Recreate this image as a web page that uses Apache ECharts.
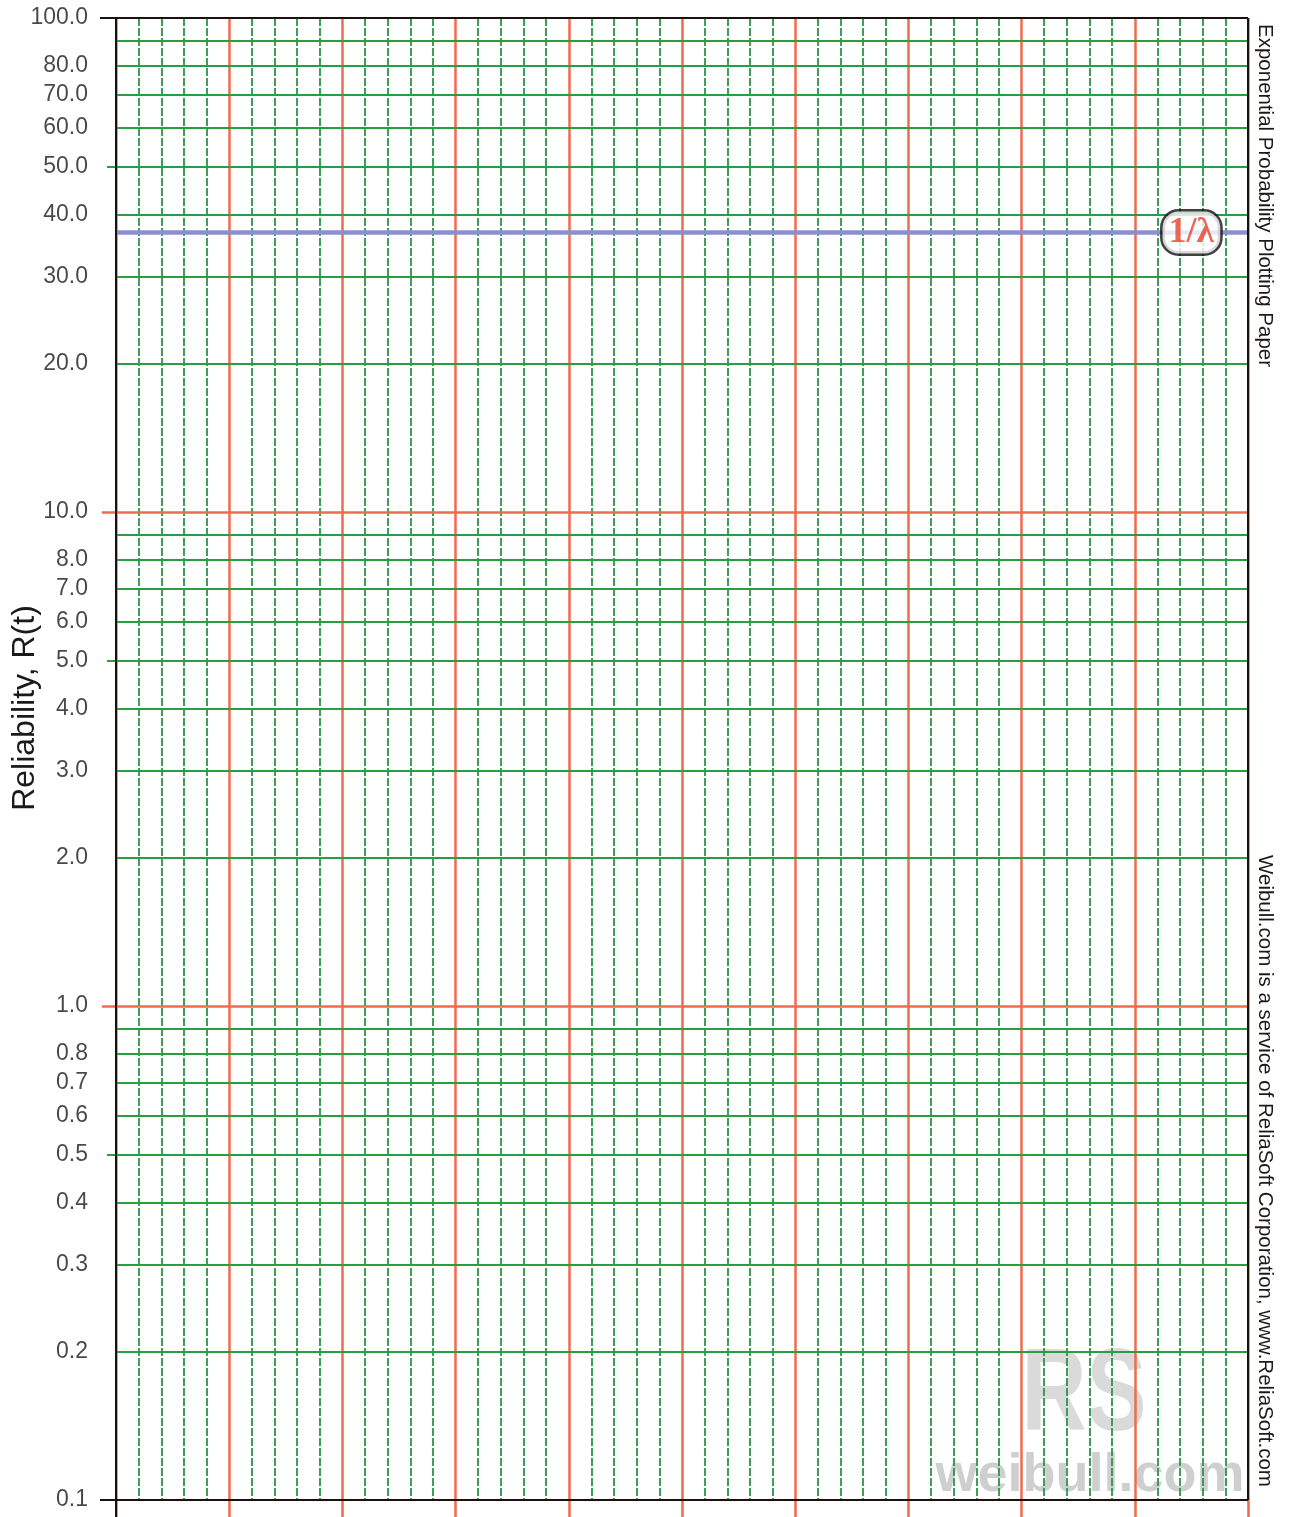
<!DOCTYPE html>
<html><head><meta charset="utf-8">
<style>html,body{margin:0;padding:0;background:#fff}#c{width:1290px;height:1517px}</style>
<script src="https://cdn.jsdelivr.net/npm/echarts@6/dist/echarts.min.js"></script>
</head><body><div id="c"></div>
<script>
// ---- data ----
const yTickLabels = [100,80,70,60,50,40,30,20,10,8,7,6,5,4,3,2,1,0.8,0.7,0.6,0.5,0.4,0.3,0.2,0.1];
const minorGridValues = [90,80,70,60,50,40,30,20,9,8,7,6,5,4,3,2,0.9,0.8,0.7,0.6,0.5,0.4,0.3,0.2];
const majorGridValues = [10,1];
const borderValues = [100,0.1];
const longTickValues = [50,5,0.5];
const meanLifeReliability = 36.79;   // R(t = 1/lambda) = e^-1
const xRange = [0,10];
const xMajorStep = 1;
const xMinorSplit = 5;
const lambdaLabelX = 9.5;

// ---- styles ----
const GRID = {left:116, top:18, right:42, bottom:17};
const RED = '#ef6a4e', GREEN = '#2a9e3f', DGREEN = '#2a9646', BLACK = '#1c110c', BLUE = '#8a8fd2';
const FONT = '"Liberation Sans", Arial, sans-serif';

function hLine(v, startPx, color, width) {
  const ls = {color, width, type:'solid'};
  const from = startPx == null ? {xAxis:xRange[0], yAxis:v} : {x:startPx, yAxis:v};
  return [Object.assign(from, {lineStyle:ls}), {xAxis:xRange[1], yAxis:v, lineStyle:ls}];
}
const lines = [];
minorGridValues.forEach(v => {
  lines.push(hLine(v, longTickValues.includes(v) ? GRID.left - 9 : null, GREEN, 2));
});
majorGridValues.forEach(v => lines.push(hLine(v, GRID.left - 14, RED, 2.5)));
lines.push(hLine(meanLifeReliability, null, BLUE, 4.5));
borderValues.forEach(v => lines.push(hLine(v, GRID.left - 16, BLACK, 2)));
const bs = {color:BLACK, width:2, type:'solid'};
lines.push([{xAxis:xRange[0], yAxis:borderValues[0], lineStyle:bs}, {xAxis:xRange[0], y:1517, lineStyle:bs}]);
lines.push([{xAxis:xRange[1], yAxis:borderValues[0], lineStyle:bs}, {xAxis:xRange[1], yAxis:borderValues[1], lineStyle:bs}]);

const chart = echarts.init(document.getElementById('c'), null, {renderer:'canvas'});
chart.setOption({
  animation:false,
  backgroundColor:'#fff',
  grid:{left:GRID.left, top:GRID.top, right:GRID.right, bottom:GRID.bottom},
  xAxis:{
    type:'value', min:xRange[0], max:xRange[1], interval:xMajorStep,
    axisLine:{show:true, onZero:false, lineStyle:{color:BLACK, width:2}},
    axisTick:{show:true, length:17, lineStyle:{color:RED, width:2.5}},
    axisLabel:{show:false},
    splitLine:{show:true, lineStyle:{color:RED, width:2.5}},
    minorTick:{show:false, splitNumber:xMinorSplit},
    minorSplitLine:{show:true, lineStyle:{color:DGREEN, width:1.8, type:[8,2]}}
  },
  yAxis:{
    type:'log', logBase:10, min:borderValues[1], max:borderValues[0],
    axisLine:{show:false}, axisTick:{show:false}, axisLabel:{show:false},
    splitLine:{show:false}, minorSplitLine:{show:false}
  },
  series:[
    {
      type:'scatter', symbolSize:0, clip:false, silent:true,
      data: yTickLabels.map(v => [xRange[0], v]),
      label:{show:true, position:'left', distance:28, color:'#1a1a1a', fontSize:23, fontFamily:FONT,
        formatter: p => p.value[1].toFixed(1)},
      markLine:{silent:true, symbol:['none','none'], label:{show:false}, data:lines}
    },
    {
      type:'scatter', symbolSize:0, clip:false, silent:true, z:5,
      data:[[lambdaLabelX, meanLifeReliability]],
      label:{show:true, position:'inside', formatter:'1/λ', color:'#e8402a',
        textBorderWidth:0, textBorderColor:'transparent', textShadowBlur:0,
        fontFamily:'"Liberation Serif", "DejaVu Serif", serif', fontWeight:'bold', fontSize:36,
        backgroundColor:'#fff', borderColor:'#111', borderWidth:2.5, borderRadius:16, padding:[4,6,2,6]}
    }
  ],
  graphic:[
    {type:'text', z:-1, x:1090, y:1476, style:{text:'weibull.com', fontSize:54, fontWeight:'bold', fontFamily:FONT, fill:'#cfcfcf', align:'center', verticalAlign:'middle'}},
    {type:'text', z:-1, x:1084, y:1398, scaleY:1.3, style:{text:'RS', fontSize:90, fontWeight:'bold', fontFamily:FONT, fill:'#dadada', align:'center', verticalAlign:'middle'}},
    {type:'text', x:1265, y:24, rotation:-Math.PI/2, style:{text:'Exponential Probability Plotting Paper', fontSize:20.5, fontFamily:FONT, fill:'#1a1a1a', align:'left', verticalAlign:'middle'}},
    {type:'text', x:1265, y:855, rotation:-Math.PI/2, style:{text:'Weibull.com is a service of ReliaSoft Corporation, www.ReliaSoft.com', fontSize:20.5, fontFamily:FONT, fill:'#1a1a1a', align:'left', verticalAlign:'middle'}},
    {type:'text', x:25, y:708, rotation:Math.PI/2, style:{text:'Reliability, R(t)', fontSize:32, fontFamily:FONT, fill:'#1a1a1a', align:'center', verticalAlign:'middle'}}
  ]
});
</script></body></html>
